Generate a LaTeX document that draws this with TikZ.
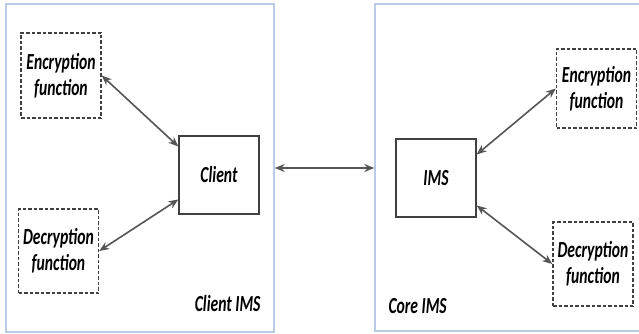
\documentclass[tikz,border=0pt]{standalone}
\usepackage{fontspec}
\usetikzlibrary{arrows.meta}
\newfontfamily\labelfont[FakeStretch=0.68]{Carlito}
\definecolor{framecol}{HTML}{B8CCE6}
\definecolor{linkcol}{HTML}{555555}
\definecolor{boxcol}{HTML}{404040}
\tikzset{
  txt/.style={font=\labelfont\bfseries\itshape\fontsize{23}{26}\selectfont, align=center, text=black},
  frame/.style={draw=framecol, line width=1.4pt, inner sep=0pt},
  funcbox/.style={txt, draw=boxcol, line width=1.4pt, dash pattern=on 3.5pt off 2pt,
    minimum width=80pt, minimum height=84pt, inner sep=0pt},
  mainbox/.style={txt, draw=boxcol, line width=1.3pt, minimum width=80pt, minimum height=78pt, inner sep=0pt},
  link/.style={draw=linkcol, line width=1.6pt, {Stealth[length=10pt,width=8pt]}-{Stealth[length=10pt,width=8pt]}}
}
\begin{document}
\begin{tikzpicture}[x=1pt,y=-1pt]
\useasboundingbox (0,0) rectangle (639,334);
\fill[white] (0,0) rectangle (639,334);
% domain frames
\node[frame, minimum width=268pt, minimum height=328pt] (clientims) at (140,168) {};
\node[frame, minimum width=268pt, minimum height=327pt] (coreims) at (509,167.5) {};
% left domain
\node[funcbox, minimum height=85pt] (encL) at (61,75.5) {Encryption\\function};
\node[funcbox] (decL) at (58.5,251) {Decryption\\function};
\node[mainbox] (client) at (219,175) {Client};
\node[txt, anchor=base east] (lblL) at (264,311) {Client IMS};
% right domain
\node[funcbox, minimum height=79pt] (encR) at (596.5,88.5) {Encryption\\function};
\node[funcbox] (decR) at (593,264) {Decryption\\function};
\node[mainbox] (ims) at (436,178) {IMS};
\node[txt, anchor=base west] (lblR) at (385,313) {Core IMS};
% connectors
\draw[link] (encL.east) -- (client.145);
\draw[link] (decL.east) -- (client.211);
\draw[link] (ims.30) -- (encR.west);
\draw[link] (ims.-34) -- (decR.west);
\draw[link] (clientims.east |- 0,168) -- (coreims.west |- 0,168);
\end{tikzpicture}
\end{document}
